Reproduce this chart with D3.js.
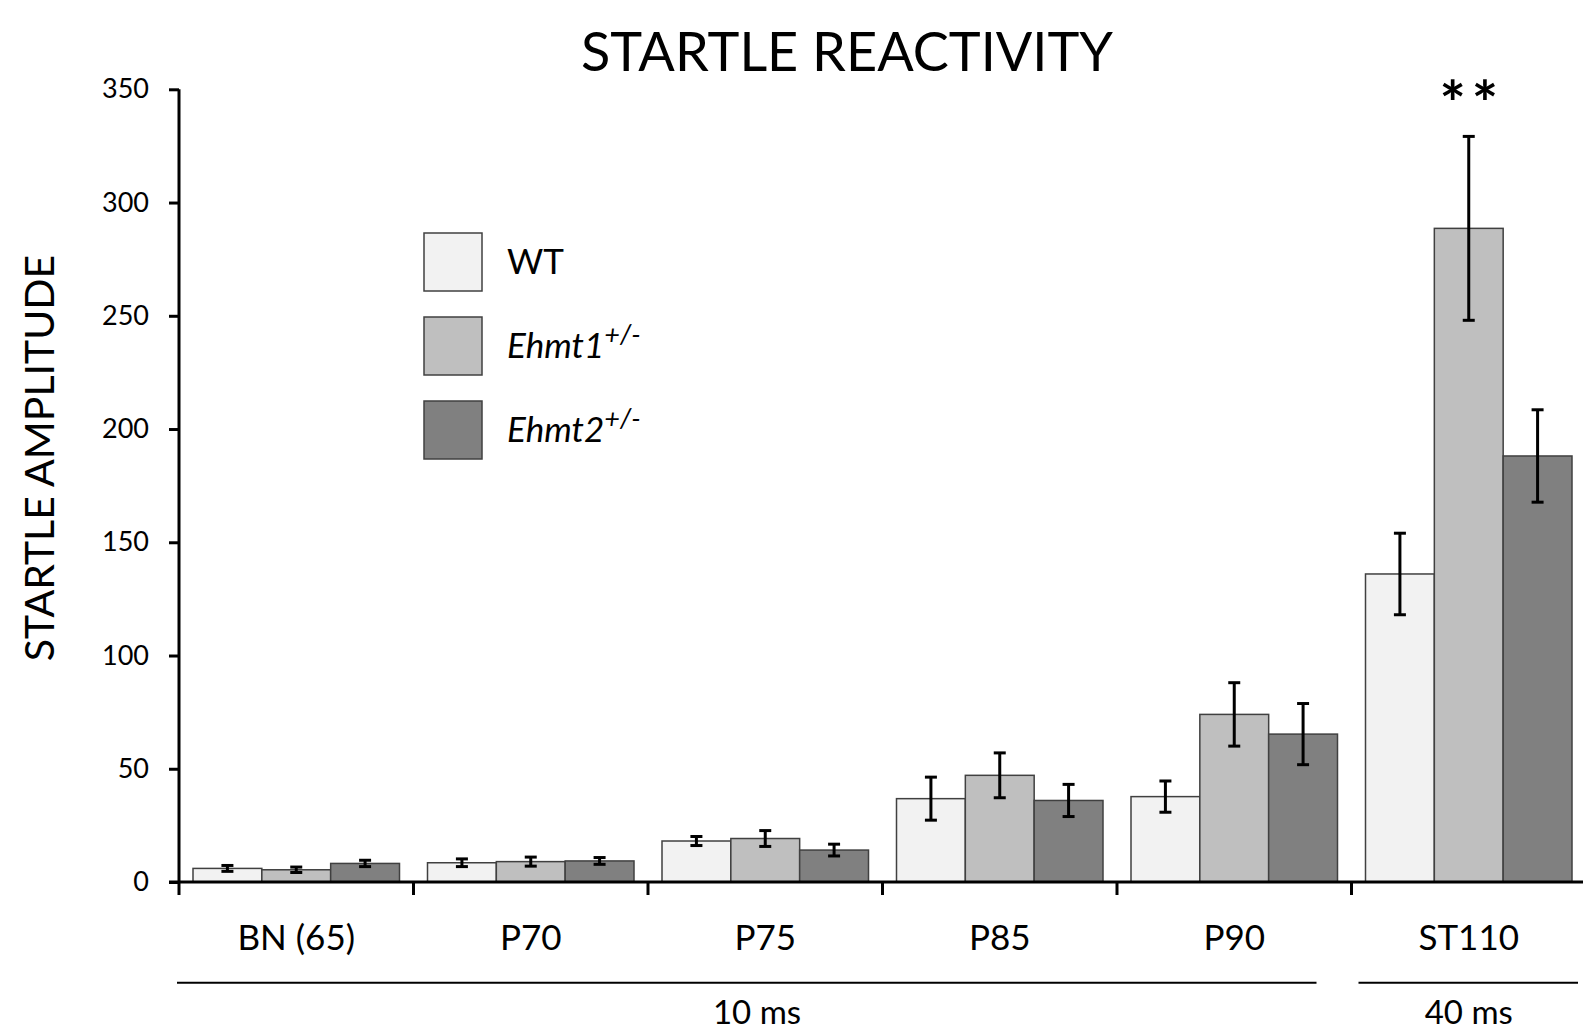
<!DOCTYPE html>
<html>
<head>
<meta charset="utf-8">
<script src="https://cdn.jsdelivr.net/npm/d3@7"></script>
<style>
    body { margin: 0; background: #fff; }
    svg { display: block; font-family: Lato, "Open Sans", sans-serif; }
</style>
</head>
<body>
<div id="chart"></div>
<script>
// data
const categories = ["BN (65)", "P70", "P75", "P85", "P90", "ST110"];
const groups = ["WT", "Ehmt1", "Ehmt2"];
const wtMean = [6.0, 8.5, 18.1, 36.8, 37.7, 136.0];
const wtErr = [1.3, 1.7, 2.0, 9.5, 6.9, 18.0];
const ehmt1Mean = [5.4, 9.0, 19.2, 47.1, 74.0, 288.6];
const ehmt1Err = [1.2, 2.0, 3.5, 9.9, 14.0, 40.6];
const ehmt2Mean = [8.2, 9.3, 14.1, 36.0, 65.3, 188.1];
const ehmt2Err = [1.4, 1.5, 2.6, 7.1, 13.5, 20.4];
const yTicks = [0, 50, 100, 150, 200, 250, 300, 350];
const groupColors = ["#f2f2f2", "#bfbfbf", "#808080"];

document.addEventListener("DOMContentLoaded", function () {
    const svgWidth = 1583, svgHeight = 1033;

    const means = [wtMean, ehmt1Mean, ehmt2Mean];
    const errs = [wtErr, ehmt1Err, ehmt2Err];
    const data = [];
    categories.forEach((c, i) => {
        groups.forEach((g, j) => {
            data.push({ cat: c, group: g, value: means[j][i], err: errs[j][i] });
        });
    });

    const svg = d3.select("#chart")
        .append("svg")
        .attr("width", svgWidth)
        .attr("height", svgHeight);

    // scales
    const x0 = d3.scaleBand().domain(categories).range([179, 1586]).padding(0);
    const x1 = d3.scaleBand().domain(groups).range([14, x0.bandwidth() - 14]).padding(0);
    const y = d3.scaleLinear().domain([0, 350]).range([882, 89.3]);
    const color = d3.scaleOrdinal().domain(groups).range(groupColors);

    // title
    svg.append("text")
        .attr("x", 847)
        .attr("y", 71)
        .attr("text-anchor", "middle")
        .attr("font-size", "54px")
        .text("STARTLE REACTIVITY");

    // y axis title
    svg.append("text")
        .attr("transform", "translate(54,458) rotate(-90)")
        .attr("text-anchor", "middle")
        .attr("font-size", "41px")
        .text("STARTLE AMPLITUDE");

    // bars
    const bars = svg.append("g");
    bars.selectAll("rect")
        .data(data)
        .enter()
        .append("rect")
        .attr("x", d => x0(d.cat) + x1(d.group))
        .attr("y", d => y(d.value))
        .attr("width", x1.bandwidth())
        .attr("height", d => y(0) - y(d.value))
        .attr("fill", d => color(d.group))
        .attr("stroke", "#404040")
        .attr("stroke-width", 1.5);

    // error bars
    const eb = svg.append("g")
        .attr("stroke", "#000")
        .attr("stroke-width", 3);
    data.forEach(d => {
        const cx = x0(d.cat) + x1(d.group) + x1.bandwidth() / 2;
        eb.append("line")
            .attr("x1", cx).attr("x2", cx)
            .attr("y1", y(d.value - d.err)).attr("y2", y(d.value + d.err));
        [d.value - d.err, d.value + d.err].forEach(v => {
            eb.append("line")
                .attr("x1", cx - 6).attr("x2", cx + 6)
                .attr("y1", y(v)).attr("y2", y(v));
        });
    });

    // y axis
    const yAxis = svg.append("g")
        .attr("transform", `translate(${x0.range()[0]},0)`)
        .call(d3.axisLeft(y).tickValues(yTicks).tickSize(10).tickPadding(20));
    yAxis.select(".domain").attr("stroke-width", 3).attr("d", `M0,${y(350)}V${y(0) + 13}`);
    yAxis.selectAll(".tick line").attr("stroke-width", 3);
    yAxis.selectAll(".tick text")
        .attr("font-size", "27px")
        .attr("font-family", "Lato, 'Open Sans', sans-serif")
        .attr("fill", "#000");

    // x axis baseline and category separators
    svg.append("line")
        .attr("x1", x0.range()[0] - 10).attr("x2", svgWidth)
        .attr("y1", y(0)).attr("y2", y(0))
        .attr("stroke", "#000").attr("stroke-width", 3);
    svg.selectAll(".sep")
        .data(categories.slice(1))
        .enter()
        .append("line")
        .attr("x1", d => x0(d)).attr("x2", d => x0(d))
        .attr("y1", y(0)).attr("y2", y(0) + 13)
        .attr("stroke", "#000").attr("stroke-width", 3);

    // category labels
    svg.selectAll(".cat")
        .data(categories)
        .enter()
        .append("text")
        .attr("x", d => x0(d) + x0.bandwidth() / 2)
        .attr("y", 950)
        .attr("text-anchor", "middle")
        .attr("font-size", "35px")
        .text(d => d);

    // duration brackets
    const last = categories[categories.length - 1];
    svg.append("line")
        .attr("x1", x0(categories[0]) - 2).attr("x2", x0(last) - 35)
        .attr("y1", 982.7).attr("y2", 982.7)
        .attr("stroke", "#000").attr("stroke-width", 2);
    svg.append("line")
        .attr("x1", x0(last) + 7).attr("x2", x0(last) + x0.bandwidth() - 8)
        .attr("y1", 982.7).attr("y2", 982.7)
        .attr("stroke", "#000").attr("stroke-width", 2);
    svg.append("text")
        .attr("x", 757).attr("y", 1024)
        .attr("text-anchor", "middle")
        .attr("font-size", "33px")
        .text("10 ms");
    svg.append("text")
        .attr("x", x0(last) + x0.bandwidth() / 2).attr("y", 1024)
        .attr("text-anchor", "middle")
        .attr("font-size", "33px")
        .text("40 ms");

    // significance marker
    svg.append("text")
        .attr("x", x0(last) + x1("Ehmt1") + x1.bandwidth() / 2 + 3)
        .attr("y", 126)
        .attr("text-anchor", "middle")
        .attr("font-size", "62px")
        .attr("font-weight", "bold")
        .attr("letter-spacing", "6px")
        .text("**");

    // legend
    const legend = svg.append("g").attr("transform", "translate(424,233)");
    groups.forEach((g, i) => {
        const row = legend.append("g").attr("transform", `translate(0,${i * 84})`);
        row.append("rect")
            .attr("width", 58).attr("height", 58)
            .attr("fill", color(g))
            .attr("stroke", "#404040").attr("stroke-width", 1.5);
        const t = row.append("text")
            .attr("x", 83).attr("y", 41)
            .attr("font-size", "35px");
        if (g === "WT") {
            t.text("WT");
        } else {
            t.append("tspan").attr("font-style", "italic").text(g);
            t.append("tspan")
                .attr("font-style", "italic")
                .attr("font-size", "27px")
                .attr("dy", -14)
                .text("+/-");
        }
    });
});
</script>
</body>
</html>
